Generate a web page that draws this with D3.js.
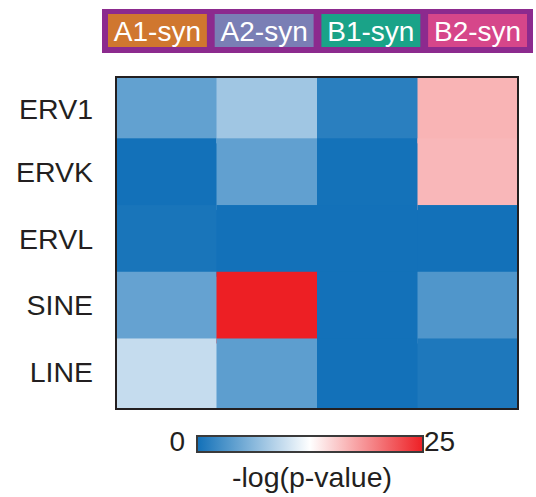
<!DOCTYPE html>
<html>
<head>
<meta charset="utf-8">
<script src="https://cdn.jsdelivr.net/npm/d3@7"></script>
<style>
  html, body { margin: 0; padding: 0; background: #ffffff; }
  svg { display: block; }
  text { font-family: "Liberation Sans", Arial, Helvetica, sans-serif; fill: #231f20; }
</style>
</head>
<body>
<svg id="chart" width="536" height="497"></svg>
<script>
// ---- data ----
const rowLabels = ["ERV1", "ERVK", "ERVL", "SINE", "LINE"];
const colLabels = ["A1-syn", "A2-syn", "B1-syn", "B2-syn"];
const colColors = ["#d0772f", "#7a7fb5", "#1aa388", "#d6468a"];
// -log(p-value), one array per column, in row order
const valuesA1 = [4.25, 0.1, 0.4, 4.4, 9.45];
const valuesA2 = [7.5, 4.2, 0.1, 25, 4.0];
const valuesB1 = [1.3, 0.15, 0.1, 0.1, 0.1];
const valuesB2 = [16.7, 16.5, 0.1, 3.3, 0.7];
const colorDomain = [0, 12.5, 25];
const colorRange = ["#1170b8", "#ffffff", "#ed1f24"];
const legendTicks = [0, 25];
const legendTitle = "-log(p-value)";

const columns = [valuesA1, valuesA2, valuesB1, valuesB2];
const cells = [];
columns.forEach((vals, ci) => vals.forEach((v, ri) => cells.push({ col: colLabels[ci], row: rowLabels[ri], value: v })));

const svg = d3.select("#chart");
const color = d3.scaleLinear().domain(colorDomain).range(colorRange).interpolate(d3.interpolateRgb);

// ---- heatmap ----
const frame = { x0: 116, x1: 518, y0: 77, y1: 409 };
const x = d3.scaleBand().domain(colLabels).range([frame.x0, frame.x1]);
const y = d3.scaleBand().domain(rowLabels).range([71.6, 405.2]);

svg.append("defs").append("clipPath").attr("id", "frameClip")
  .append("rect").attr("x", frame.x0).attr("y", frame.y0)
  .attr("width", frame.x1 - frame.x0).attr("height", frame.y1 - frame.y0);

svg.append("g").attr("clip-path", "url(#frameClip)")
  .selectAll("rect").data(cells).join("rect")
  .attr("x", d => x(d.col))
  .attr("y", d => y(d.row))
  .attr("width", x.bandwidth() + 0.5)
  .attr("height", y.bandwidth() + 5)
  .attr("fill", d => color(d.value));

svg.append("rect")
  .attr("x", frame.x0).attr("y", frame.y0)
  .attr("width", frame.x1 - frame.x0).attr("height", frame.y1 - frame.y0)
  .attr("fill", "none").attr("stroke", "#231f20").attr("stroke-width", 2);

// row labels
svg.append("g").selectAll("text").data(rowLabels).join("text")
  .attr("x", 93)
  .attr("y", d => y(d) + y.bandwidth() / 2 + (d === "ERV1" ? 4 : 0))
  .attr("dy", "0.36em")
  .attr("text-anchor", "end")
  .attr("font-size", 28.5)
  .text(d => d);

// ---- column header ----
const hx = d3.scaleBand().domain(colLabels).range([102, 533]).paddingInner(0.073).paddingOuter(0.056);
svg.append("rect").attr("x", 102).attr("y", 9).attr("width", 431).attr("height", 44).attr("fill", "#8c2a8e");
const hg = svg.append("g").selectAll("g").data(colLabels).join("g");
hg.append("rect")
  .attr("x", d => hx(d)).attr("y", 14)
  .attr("width", hx.bandwidth()).attr("height", 33)
  .attr("fill", (d, i) => colColors[i]);
hg.append("text")
  .attr("x", d => hx(d) + hx.bandwidth() / 2)
  .attr("y", 40.5)
  .attr("text-anchor", "middle")
  .attr("font-size", 28)
  .style("fill", "#ffffff")
  .text(d => d);

// ---- color legend ----
const lg = { x0: 197, x1: 423, y0: 436, y1: 452 };
const lx = d3.scaleLinear().domain([colorDomain[0], colorDomain[2]]).range([lg.x0, lg.x1]);
const grad = svg.select("defs").append("linearGradient").attr("id", "lgGrad")
  .attr("x1", "0%").attr("x2", "100%").attr("y1", "0%").attr("y2", "0%");
d3.range(0, 1.0001, 0.05).forEach(t => {
  const v = colorDomain[0] + t * (colorDomain[2] - colorDomain[0]);
  grad.append("stop").attr("offset", (t * 100) + "%").attr("stop-color", color(v));
});
svg.append("rect")
  .attr("x", lg.x0).attr("y", lg.y0)
  .attr("width", lg.x1 - lg.x0).attr("height", lg.y1 - lg.y0)
  .attr("fill", "url(#lgGrad)")
  .attr("stroke", "#3a3a3a").attr("stroke-width", 2);

svg.append("g").selectAll("text").data(legendTicks).join("text")
  .attr("x", (d, i) => i === 0 ? lx(d) - 12 : lx(d) + 1)
  .attr("y", 451)
  .attr("text-anchor", (d, i) => i === 0 ? "end" : "start")
  .attr("font-size", 28)
  .text(d => d);

svg.append("text")
  .attr("x", 312).attr("y", 487)
  .attr("text-anchor", "middle")
  .attr("font-size", 28.5)
  .text(legendTitle);
</script>
</body>
</html>
